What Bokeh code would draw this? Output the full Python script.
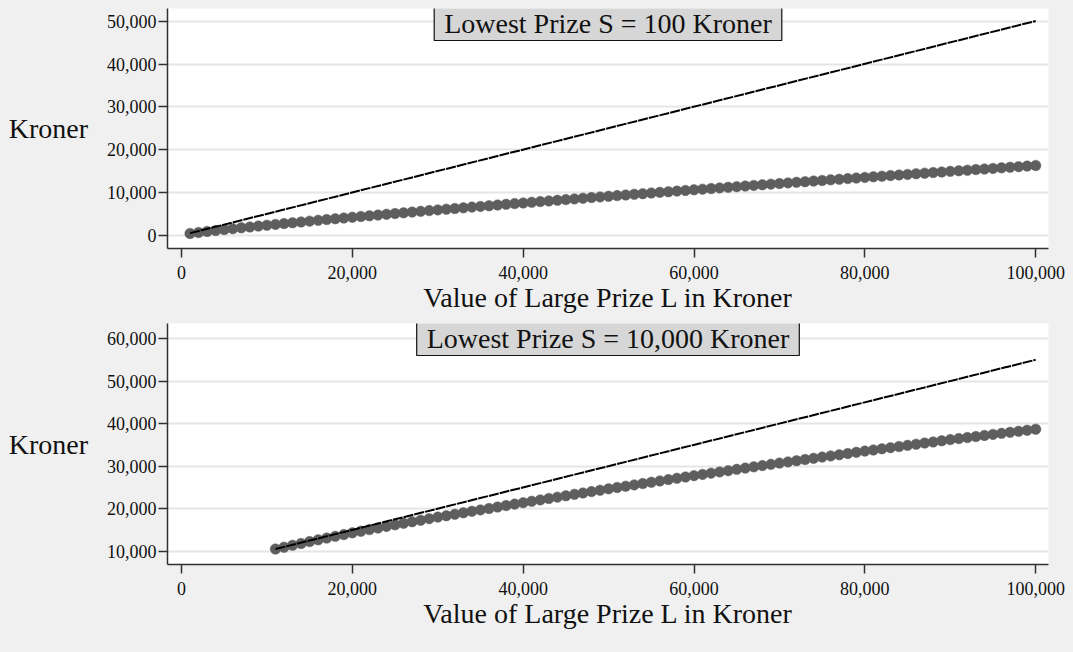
from bokeh.plotting import figure
from bokeh.layouts import column
from bokeh.models import Range1d, FixedTicker, NumeralTickFormatter, Label
from bokeh.embed import file_html
from bokeh.resources import INLINE

FONT = "Liberation Serif"
BG = "#f0f0f0"

# ---------------- data ----------------
# Panel 1: lowest prize S = 100 kroner
top_prize_k = [1, 2, 3, 4, 5, 6, 7, 8, 9, 10,
               11, 12, 13, 14, 15, 16, 17, 18, 19, 20,
               21, 22, 23, 24, 25, 26, 27, 28, 29, 30,
               31, 32, 33, 34, 35, 36, 37, 38, 39, 40,
               41, 42, 43, 44, 45, 46, 47, 48, 49, 50,
               51, 52, 53, 54, 55, 56, 57, 58, 59, 60,
               61, 62, 63, 64, 65, 66, 67, 68, 69, 70,
               71, 72, 73, 74, 75, 76, 77, 78, 79, 80,
               81, 82, 83, 84, 85, 86, 87, 88, 89, 90,
               91, 92, 93, 94, 95, 96, 97, 98, 99, 100]
top_ce = [480, 720, 950, 1170, 1390, 1600, 1800, 2000, 2200, 2400,
          2590, 2785, 2975, 3165, 3355, 3540, 3720, 3905, 4085, 4265,
          4435, 4605, 4780, 4950, 5120, 5295, 5465, 5635, 5810, 5980,
          6140, 6305, 6465, 6630, 6790, 6955, 7115, 7280, 7440, 7600,
          7755, 7910, 8070, 8225, 8380, 8540, 8695, 8850, 9005, 9160,
          9310, 9460, 9610, 9760, 9915, 10065, 10215, 10365, 10515, 10670,
          10815, 10960, 11110, 11255, 11400, 11545, 11690, 11840, 11985, 12130,
          12275, 12420, 12560, 12705, 12845, 12990, 13130, 13275, 13420, 13560,
          13700, 13840, 13980, 14120, 14260, 14405, 14545, 14685, 14825, 14965,
          15100, 15240, 15380, 15515, 15655, 15790, 15930, 16065, 16205, 16340]
top_ev_prize = [1000, 100000]
top_ev = [550, 50050]

# Panel 2: lowest prize S = 10,000 kroner
bot_prize_k = [11, 12, 13, 14, 15, 16, 17, 18, 19, 20,
               21, 22, 23, 24, 25, 26, 27, 28, 29, 30,
               31, 32, 33, 34, 35, 36, 37, 38, 39, 40,
               41, 42, 43, 44, 45, 46, 47, 48, 49, 50,
               51, 52, 53, 54, 55, 56, 57, 58, 59, 60,
               61, 62, 63, 64, 65, 66, 67, 68, 69, 70,
               71, 72, 73, 74, 75, 76, 77, 78, 79, 80,
               81, 82, 83, 84, 85, 86, 87, 88, 89, 90,
               91, 92, 93, 94, 95, 96, 97, 98, 99, 100]
bot_ce = [10500, 10940, 11380, 11820, 12260, 12670, 13080, 13490, 13900, 14310,
          14690, 15070, 15450, 15830, 16210, 16570, 16930, 17290, 17650, 18010,
          18350, 18690, 19030, 19370, 19710, 20050, 20390, 20730, 21070, 21410,
          21735, 22060, 22385, 22710, 23035, 23360, 23685, 24010, 24335, 24660,
          24970, 25280, 25590, 25900, 26210, 26520, 26830, 27140, 27450, 27760,
          28055, 28350, 28645, 28940, 29235, 29530, 29825, 30120, 30415, 30710,
          30990, 31275, 31555, 31840, 32120, 32400, 32685, 32965, 33250, 33530,
          33800, 34070, 34340, 34610, 34880, 35150, 35420, 35690, 35960, 36230,
          36475, 36720, 36965, 37210, 37455, 37700, 37945, 38190, 38435, 38680]
bot_ev_prize = [11000, 100000]
bot_ev = [10500, 55000]

x_ticks = [0, 20000, 40000, 60000, 80000, 100000]
top_y_ticks = [0, 10000, 20000, 30000, 40000, 50000]
bot_y_ticks = [10000, 20000, 30000, 40000, 50000, 60000]

top_title = "Lowest Prize S = 100 Kroner"
bot_title = "Lowest Prize S = 10,000 Kroner"
x_label = "Value of Large Prize L in Kroner"
y_label = "Kroner"


def panel(prize_k, ce, ev_prize, ev, yticks, yr, title, height, top, bottom):
    x0, x1 = -1640, 101500
    p = figure(width=1073, height=height, output_backend="svg",
               toolbar_location=None, title=None,
               x_range=Range1d(x0, x1), y_range=Range1d(*yr),
               min_border_left=167, min_border_right=25,
               min_border_top=top, min_border_bottom=bottom)
    p.background_fill_color = "white"
    p.border_fill_color = BG
    p.outline_line_color = None

    p.scatter([k * 1000 for k in prize_k], ce, size=10.5,
              fill_color="#5e5e5e", line_color="#5e5e5e", line_width=0.5)
    p.line(ev_prize, ev, line_color="black", line_width=2, line_dash="10 1")

    p.xaxis.ticker = FixedTicker(ticks=x_ticks)
    p.yaxis.ticker = FixedTicker(ticks=yticks)
    p.xaxis.formatter = NumeralTickFormatter(format="0,0")
    p.yaxis.formatter = NumeralTickFormatter(format="0,0")

    p.xgrid.visible = False
    p.ygrid.grid_line_color = "#e6e6e6"
    p.ygrid.grid_line_width = 2

    for ax in (p.xaxis, p.yaxis):
        ax.axis_line_color = "#303030"
        ax.axis_line_width = 1.5
        ax.major_tick_line_color = "#303030"
        ax.major_tick_line_width = 1.5
        ax.major_tick_in = 0
        ax.major_tick_out = 9
        ax.minor_tick_line_color = None
        ax.major_label_text_font = FONT
        ax.major_label_text_font_size = "18px"
        ax.major_label_text_color = "#111111"
        ax.axis_label_text_font = FONT
        ax.axis_label_text_font_size = "28px"
        ax.axis_label_text_font_style = "normal"
        ax.axis_label_text_color = "#111111"

    p.xaxis.axis_label = x_label
    p.xaxis.major_label_standoff = 8
    p.xaxis.axis_label_standoff = 0
    p.yaxis.axis_label = y_label
    p.yaxis.axis_label_orientation = "horizontal"
    p.yaxis.major_label_standoff = 2
    p.yaxis.axis_label_standoff = 16

    lab = Label(x=(x0 + x1) / 2, y=yr[1], y_offset=3, text=title,
                text_align="center", text_baseline="top",
                text_font=FONT, text_font_size="28px", text_color="#111111",
                background_fill_color="#d6d6d6",
                border_line_color="#111111", border_line_width=1.2,
                padding=dict(left=10, right=10, top=2, bottom=2))
    p.add_layout(lab)
    return p


p1 = panel(top_prize_k, top_ce, top_ev_prize, top_ev, top_y_ticks,
           (-3030, 52960), top_title, 323, 8, 75)
p2 = panel(bot_prize_k, bot_ce, bot_ev_prize, bot_ev, bot_y_ticks,
           (6870, 63530), bot_title, 329, 0, 88)

layout = column(p1, p2, spacing=0)
html = file_html(layout, INLINE)
html = html.replace("</head>",
                    "<style>html, body {background-color: %s;}</style></head>" % BG, 1)
open("out.html", "w").write(html)
